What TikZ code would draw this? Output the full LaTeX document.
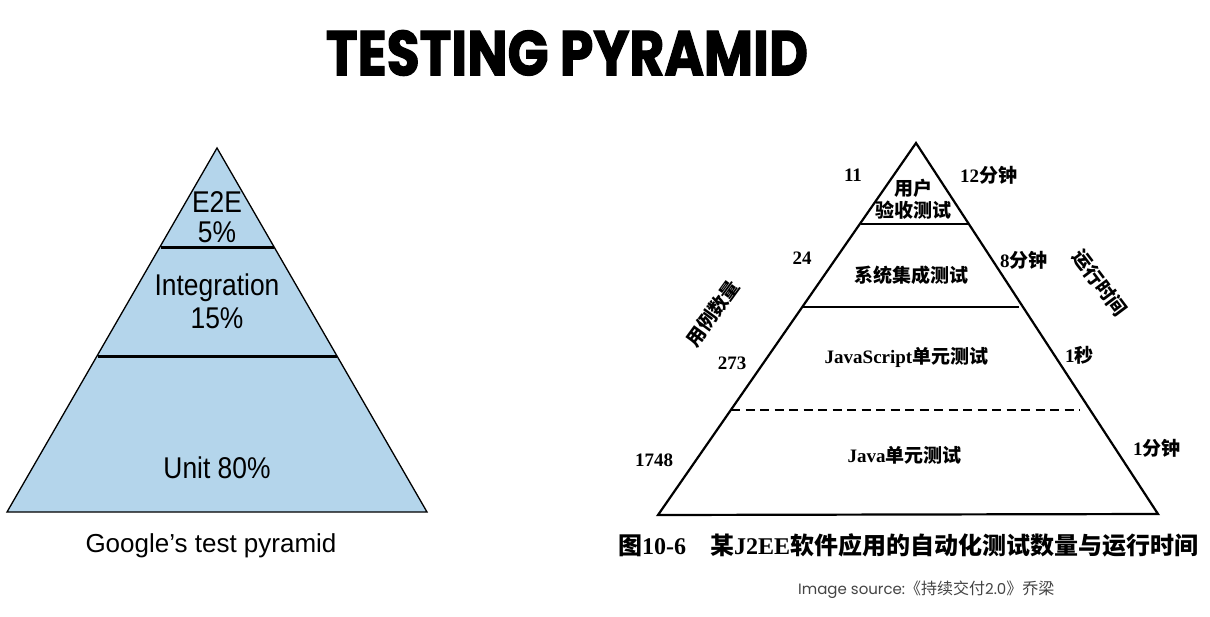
\documentclass[tikz,border=0pt]{standalone}
\usepackage{fontspec}
\usepackage{graphicx}
\setmainfont{Liberation Sans}
\newfontfamily\titlefont{Poppins}[FakeBold=2]
\newfontfamily\condfont{Liberation Sans}[FakeStretch=0.88]
\newfontfamily\serifb{Liberation Serif}
\newfontfamily\cjk{Noto Sans CJK SC}
\newfontfamily\srcfont{Poppins}
\definecolor{pyrblue}{HTML}{B4D5EB}
\definecolor{srcgray}{HTML}{444444}
\tikzset{
  condlbl/.style={inner sep=0pt, anchor=base, font=\condfont\fontsize{30}{32}\selectfont},
  numlbl/.style={inner sep=0pt, font=\serifb\bfseries\fontsize{19}{20}\selectfont},
  cjklbl/.style={inner sep=0pt, font=\cjk\bfseries\fontsize{19}{22}\selectfont},
  rline/.style={line width=2.2pt, line join=miter},
}
\newcommand{\latb}[1]{{\serifb\bfseries\fontsize{19}{20}\selectfont #1}}
\begin{document}
\begin{tikzpicture}[x=1pt,y=-1pt]
\useasboundingbox (0,0) rectangle (1210,616);
\fill[white] (0,0) rectangle (1210,616);

% title
\node[inner sep=0pt] (title) at (567,53) {\resizebox{482pt}{45pt}{\titlefont\bfseries TESTING PYRAMID}};

% left pyramid
\coordinate (LA) at (217,148);
\coordinate (LL) at (7,512);
\coordinate (LR) at (427,512);
\filldraw[fill=pyrblue, draw=black, line width=1.3pt, line join=miter] (LA) -- (LL) -- (LR) -- cycle;
\coordinate (L1a) at (160.5,247);
\coordinate (L1b) at (274,247);
\coordinate (L2a) at (97.5,356);
\coordinate (L2b) at (337,356);
\draw[line width=3pt] (L1a) -- (L1b);
\draw[line width=3pt] (L2a) -- (L2b);
\node[condlbl] (e2e) at (217,212) {E2E};
\node[condlbl] (p5) at (217,242) {5\%};
\node[condlbl] (integ) at (217,295) {Integration};
\node[condlbl] (p15) at (217,328) {15\%};
\node[condlbl] (unit) at (217,478) {Unit 80\%};
\node[inner sep=0pt, anchor=base, font=\fontsize{26}{30}\selectfont] (gcap) at (211,552) {Google’s test pyramid};

% right pyramid
\coordinate (RA) at (916,143);
\coordinate (RL) at (658,515);
\coordinate (RR) at (1158,514);
\draw[rline] (RA) -- (RL) -- (RR) -- cycle;
\coordinate (R1a) at (861,223.5);
\coordinate (R1b) at (968,223.5);
\coordinate (R2a) at (802.5,306.5);
\coordinate (R2b) at (1019,306.5);
\coordinate (R3a) at (731,410);
\coordinate (R3b) at (1080,410);
\draw[line width=2pt] (R1a) -- (R1b);
\draw[line width=2pt] (R2a) -- (R2b);
\draw[line width=2pt, dash pattern=on 9pt off 5.5pt] (R3a) -- (R3b);

\node[cjklbl] (uat1) at (913,188) {用户};
\node[cjklbl] (uat2) at (913,210) {验收测试};
\node[cjklbl] (sit) at (911,275) {系统集成测试};
\node[cjklbl] (jsut) at (906.5,357) {\latb{JavaScript}单元测试};
\node[cjklbl] (jut) at (904.5,455) {\latb{Java}单元测试};

\node[numlbl] (n11) at (853,175) {11};
\node[numlbl] (n24) at (802,258) {24};
\node[numlbl] (n273) at (732,363) {273};
\node[numlbl] (n1748) at (654,460) {1748};

\node[cjklbl, anchor=west] (t12) at (960,175) {\latb{12}分钟};
\node[cjklbl, anchor=west] (t8) at (1000,260) {\latb{8}分钟};
\node[cjklbl, anchor=west] (t1s) at (1065,355) {\latb{1}秒};
\node[cjklbl, anchor=west] (t1m) at (1133,448) {\latb{1}分钟};

\node[cjklbl, rotate=54] (ylcount) at (712.7,313.3) {用例数量};
\node[cjklbl, rotate=-53] (runtime) at (1100,283) {运行时间};

\node[inner sep=0pt, anchor=west, font=\cjk\bfseries\fontsize{24}{26}\selectfont] (fig) at (618,545)
  {图{\serifb\bfseries 10-6}\hspace{1em}某{\serifb\bfseries J2EE}软件应用的自动化测试数量与运行时间};

\node[inner sep=0pt, anchor=west, text=srcgray] (src) at (798,590)
  {{\srcfont\fontsize{15}{18}\selectfont Image source:}{\cjk\fontsize{16}{18}\selectfont 《持续交付}{\srcfont\fontsize{15}{18}\selectfont 2.0}{\cjk\fontsize{16}{18}\selectfont 》乔梁}};
\end{tikzpicture}
\end{document}
